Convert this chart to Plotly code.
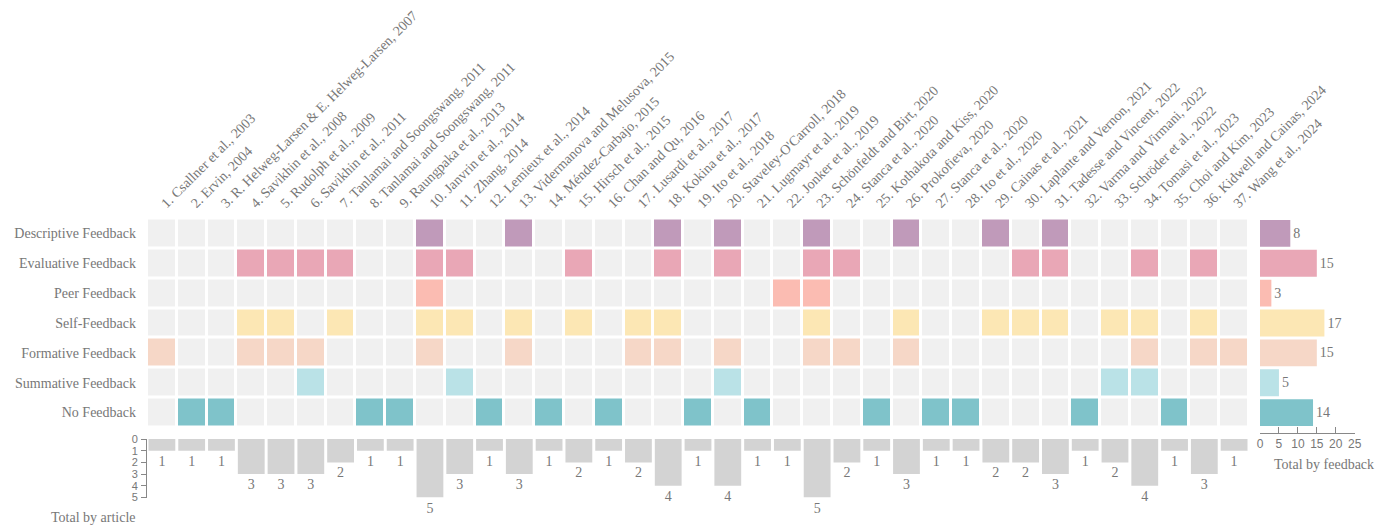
import plotly.graph_objects as go

articles = [
    "1. Csallner et al., 2003", "2. Ervin, 2004",
    "3. R. Helweg-Larsen & E. Helweg-Larsen, 2007", "4. Savikhin et al., 2008",
    "5. Rudolph et al., 2009", "6. Savikhin et al., 2011",
    "7. Tanlamai and Soongswang, 2011", "8. Tanlamai and Soongswang, 2011",
    "9. Raungpaka et al., 2013", "10. Janvrin et al., 2014", "11. Zhang, 2014",
    "12. Lemieux et al., 2014", "13. Vidermanova and Melusova, 2015",
    "14. Méndez-Carbajo, 2015", "15. Hirsch et al., 2015", "16. Chan and Qu, 2016",
    "17. Lusardi et al., 2017", "18. Kokina et al., 2017", "19. Ito et al., 2018",
    "20. Staveley-O'Carroll, 2018", "21. Lugmayr et al., 2019",
    "22. Jonker et al., 2019", "23. Schönfeldt and Birt, 2020",
    "24. Stanca et al., 2020", "25. Kothakota and Kiss, 2020",
    "26. Prokofieva, 2020", "27. Stanca et al., 2020", "28. Ito et al., 2020",
    "29. Cainas et al., 2021", "30. Laplante and Vernon, 2021",
    "31. Tadesse and Vincent, 2022", "32. Varma and Virmani, 2022",
    "33. Schröder et al., 2022", "34. Tomasi et al., 2023",
    "35. Choi and Kim, 2023", "36. Kidwell and Cainas, 2024",
    "37. Wang et al., 2024",
]

feedback_types = [
    "Descriptive Feedback", "Evaluative Feedback", "Peer Feedback",
    "Self-Feedback", "Formative Feedback", "Summative Feedback", "No Feedback",
]

# article numbers (1-based) that include each feedback type
descriptive = [10, 13, 18, 20, 23, 26, 29, 31]
evaluative = [4, 5, 6, 7, 10, 11, 15, 18, 20, 23, 24, 30, 31, 34, 36]
peer = [10, 22, 23]
self_fb = [4, 5, 7, 10, 11, 13, 15, 17, 18, 23, 26, 29, 30, 31, 33, 34, 36]
formative = [1, 4, 5, 6, 10, 13, 17, 18, 20, 23, 24, 26, 34, 36, 37]
summative = [6, 11, 20, 33, 34]
no_feedback = [2, 3, 8, 9, 12, 14, 16, 19, 21, 25, 27, 28, 32, 35]

membership = [descriptive, evaluative, peer, self_fb, formative, summative, no_feedback]

type_colors = ["#c09aba", "#e9a7b6", "#fbbcb2", "#fce7b4", "#f6d7c7", "#bae2e7", "#7fc3ca"]
empty_color = "#f0f0f0"
text_color = "#777777"
serif = "Liberation Serif"
sans = "Liberation Sans"

n_art = len(articles)
n_type = len(feedback_types)

z = []
for r, members in enumerate(membership):
    row = [(r + 1) if (c + 1) in members else 0 for c in range(n_art)]
    z.append(row)

totals_by_article = [sum(1 for m in membership if (c + 1) in m) for c in range(n_art)]
totals_by_feedback = [len(m) for m in membership]

all_colors = [empty_color] + type_colors
ncol = len(all_colors)
colorscale = []
for i, col in enumerate(all_colors):
    colorscale.append([i / ncol, col])
    colorscale.append([(i + 1) / ncol, col])

W, H = 1390, 529
OFF = 8  # page body margin offset
def px_x(p):
    return (p - OFF) / W
def px_y(p):
    return 1 - (p - OFF) / H

label_font = dict(family=serif, size=14, color=text_color)

fig = go.Figure()

fig.add_trace(go.Heatmap(
    z=z, x=list(range(n_art)), y=list(range(n_type)),
    colorscale=colorscale, zmin=-0.5, zmax=ncol - 0.5, showscale=False,
    xgap=3, ygap=3, hoverinfo="skip", xaxis="x", yaxis="y",
))

fig.add_trace(go.Bar(
    x=list(range(n_art)), y=totals_by_article, width=0.9,
    marker=dict(color="#d3d3d3", line=dict(width=0)),
    text=[str(v) for v in totals_by_article], textposition="outside",
    textfont=label_font, outsidetextfont=label_font, constraintext="none",
    cliponaxis=False, xaxis="x2", yaxis="y2", hoverinfo="skip",
))

fig.add_trace(go.Bar(
    x=totals_by_feedback, y=list(range(n_type)), orientation="h", width=0.9,
    marker=dict(color=type_colors, line=dict(width=0)),
    text=[str(v) for v in totals_by_feedback], textposition="outside",
    textfont=label_font, outsidetextfont=label_font, constraintext="none",
    cliponaxis=False, xaxis="x3", yaxis="y3", hoverinfo="skip",
))

grid_x = [px_x(147), px_x(1249)]
grid_y = [px_y(427.5), px_y(218.5)]

fig.update_layout(
    template="none",
    width=W, height=H, margin=dict(l=0, r=0, t=0, b=0, pad=0, autoexpand=False),
    paper_bgcolor="white", plot_bgcolor="white", showlegend=False,
    font=dict(family=serif, color=text_color, size=14),
    xaxis=dict(
        domain=grid_x, range=[-0.5, n_art - 0.5], side="top", anchor="y",
        tickvals=list(range(n_art)), ticktext=articles, tickangle=-45,
        tickfont=label_font, automargin=False,
        showgrid=False, zeroline=False, showline=False, ticks="",
        ticklabelstandoff=4,
    ),
    yaxis=dict(
        domain=grid_y, range=[n_type - 0.5, -0.5], anchor="x",
        tickvals=list(range(n_type)), ticktext=feedback_types,
        tickfont=label_font, automargin=False,
        showgrid=False, zeroline=False, showline=False, ticks="",
        ticklabelstandoff=10,
    ),
    xaxis2=dict(
        domain=grid_x, range=[-0.5, n_art - 0.5], anchor="y2", automargin=False,
        showticklabels=False, showgrid=False, zeroline=False, showline=False, ticks="",
    ),
    yaxis2=dict(
        domain=[px_y(497.5), px_y(439)], range=[5, 0], anchor="x2", automargin=False,
        tickvals=[0, 1, 2, 3, 4, 5], ticks="outside", ticklen=5,
        tickcolor="#888888", showline=True, linecolor="#888888", linewidth=1,
        tickfont=dict(family=sans, size=11, color=text_color),
        showgrid=False, zeroline=False, ticklabelstandoff=1,
    ),
    xaxis3=dict(
        domain=[px_x(1260), px_x(1354.7)], range=[0, 25], anchor="free",
        position=px_y(433), tickvals=[0, 5, 10, 15, 20, 25], automargin=False,
        ticks="inside", ticklen=6, tickcolor="#888888",
        showline=True, linecolor="#888888", linewidth=1,
        tickfont=dict(family=sans, size=12, color=text_color),
        showgrid=False, zeroline=False,
    ),
    yaxis3=dict(
        domain=grid_y, range=[n_type - 0.5, -0.5], anchor="x3", visible=False,
        automargin=False,
    ),
    annotations=[
        dict(text="Total by article", x=px_x(138), y=px_y(517), xref="paper", yref="paper",
             xanchor="right", yanchor="middle", showarrow=False, font=label_font),
        dict(text="Total by feedback", x=px_x(1272), y=px_y(464), xref="paper", yref="paper",
             xanchor="left", yanchor="middle", showarrow=False, font=label_font),
    ],
)

fig.write_html("out.html")
